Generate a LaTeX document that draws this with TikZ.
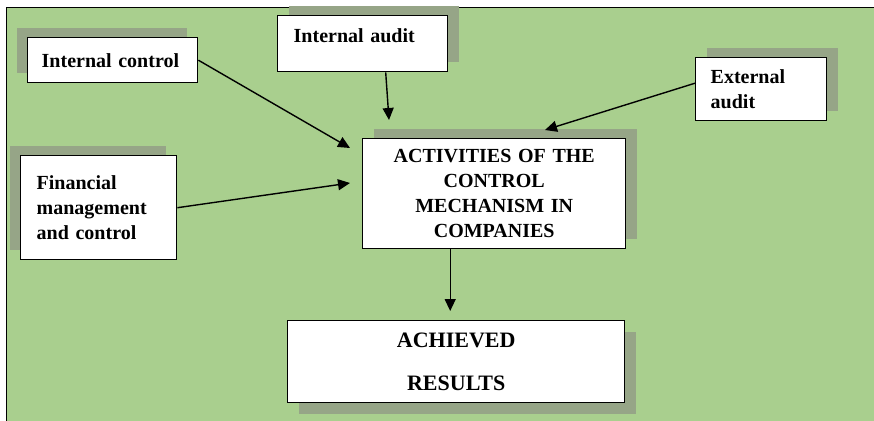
\documentclass[tikz,border=0pt]{standalone}
\usepackage{fontspec}
\setmainfont{Liberation Serif}
\usetikzlibrary{calc,arrows.meta,shadows}
\definecolor{bggreen}{RGB}{169,207,142}
\definecolor{shadowgray}{RGB}{150,165,135}

\begin{document}
\begin{tikzpicture}[x=1pt, y=-1pt,
		box/.style={draw, line width=1.4pt, fill=white, anchor=north west, inner ysep=0pt,
			font=\bfseries\fontsize{20}{25}\selectfont},
		shadowleft/.style={drop shadow={shadow xshift=-11pt, shadow yshift=10pt, fill=shadowgray, opacity=1}},
		shadowright/.style={drop shadow={shadow xshift=11pt, shadow yshift=10pt, fill=shadowgray, opacity=1}},
		shadowdown/.style={drop shadow={shadow xshift=11pt, shadow yshift=-11pt, fill=shadowgray, opacity=1}},
		arr/.style={line width=1.4pt, -{Triangle[length=12pt, width=11pt]}}]
			\clip (0, 0) rectangle (874, 420);
			\draw[fill=bggreen, line width=1pt] (6, 8) rectangle (890, 440);

			\node[box, shadowleft, minimum width=170pt, minimum height=45pt, inner xsep=14pt, text width=142pt, align=left] (ic) at (27, 37) {Internal control};
			\node[box, shadowright, minimum width=170pt, inner xsep=16pt, text width=138pt, text height=27pt, text depth=29pt, align=left] (ia) at (277, 15) {Internal audit};
			\node[box, shadowright, minimum width=131pt, minimum height=63pt, inner xsep=15pt, text width=101pt, align=left] (ea) at (695, 57) {External\\audit};
			\node[box, shadowleft, minimum width=156pt, minimum height=104pt, inner xsep=16pt, text width=124pt, align=left] (fin) at (20, 155) {Financial\\management\\and control\\[-10pt]};
			\node[box, shadowright, minimum width=263pt, minimum height=110pt, inner xsep=11pt, text width=241pt, align=center] (act) at (362, 138) {ACTIVITIES OF THE\\CONTROL\\MECHANISM IN\\COMPANIES};
			\node[box, shadowdown, minimum width=337pt, minimum height=82pt, inner xsep=10pt, text width=317pt, align=center, font=\bfseries\fontsize{22}{43}\selectfont] (res) at (287, 320) {ACHIEVED\\RESULTS};

			\draw[arr] (ic.east) -- ($(act.north west)+(-12, 10)$);
			\draw[arr] (fin.east) -- ($(act.north west)+(-12, 45)$);
			\draw[arr] ($(ia.south)+(23, 0)$) -- ($(act.north west)+(27, -18)$);
			\draw[arr] ($(ea.west)+(0, -6)$) -- ($(act.north west)+(183, -8)$);
			\draw[arr] ($(act.south)+(-44, 0)$) -- ($(res.north)+(-6, -9)$);
		\end{tikzpicture}
\end{document}
